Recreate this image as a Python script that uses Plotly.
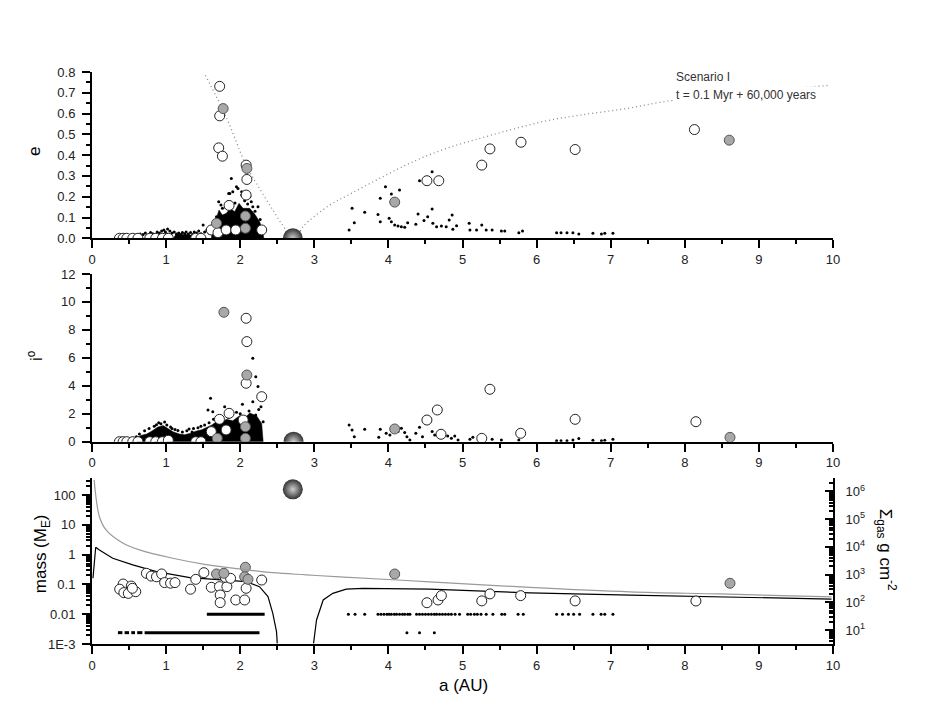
import plotly.graph_objects as go
from plotly.subplots import make_subplots

# ---------------- data ----------------
# panel 1 : eccentricity
dotted_in_a = [1.53, 1.81, 2.08, 2.22, 2.44, 2.62, 2.74]
dotted_in_e = [0.784, 0.584, 0.35, 0.264, 0.136, 0.04, 0.0]
dotted_out_a = [2.76, 2.85, 3.21, 3.48, 3.88, 4.33, 4.78, 5.23, 5.68, 6.13, 6.58, 7.21, 7.85, 9.95]
dotted_out_e = [0.0, 0.056, 0.16, 0.212, 0.288, 0.368, 0.432, 0.48, 0.525, 0.565, 0.592, 0.624, 0.664, 0.736]

# dense planetesimal swarm (outline) 1.6-2.3 AU
swarm_e_a = [1.611, 1.633, 1.678, 1.714, 1.759, 1.813, 1.867, 1.925, 1.984, 2.038, 2.128, 2.195, 2.263, 2.308, 2.317, 1.611]
swarm_e = [0.0, 0.059, 0.096, 0.136, 0.112, 0.12, 0.144, 0.128, 0.168, 0.144, 0.144, 0.117, 0.08, 0.032, 0.0, 0.0]
# dense low band 1.1-1.35 AU
band_e_a = [1.10, 1.13, 1.18, 1.24, 1.30, 1.35, 1.35, 1.10]
band_e = [0.0, 0.018, 0.022, 0.016, 0.020, 0.012, 0.0, 0.0]

plan_e = [
    (0.36, 0.006), (0.40, 0.010), (0.44, 0.008), (0.48, 0.012), (0.53, 0.010), (0.57, 0.015),
    (0.61, 0.012), (0.65, 0.020), (0.69, 0.018), (0.72, 0.025), (0.76, 0.015), (0.79, 0.028),
    (0.82, 0.022), (0.85, 0.018), (0.88, 0.030), (0.91, 0.025), (0.94, 0.035), (0.97, 0.040),
    (0.99, 0.030), (1.02, 0.045), (1.05, 0.035), (1.08, 0.025), (1.11, 0.030), (1.14, 0.020),
    (1.17, 0.026), (1.20, 0.018), (1.22, 0.028), (1.25, 0.022), (1.27, 0.030), (1.30, 0.020),
    (1.33, 0.028), (1.36, 0.018), (1.38, 0.030), (1.41, 0.025), (1.44, 0.035), (1.47, 0.022),
    (1.50, 0.064), (1.52, 0.030), (1.55, 0.040), (1.58, 0.025), (1.60, 0.050), (1.16, 0.005),
    (0.96, 0.015), (1.01, 0.020), (0.83, 0.010), (0.92, 0.012), (1.04, 0.012), (1.46, 0.010),
    (1.88, 0.288), (1.95, 0.248), (2.02, 0.224), (1.845, 0.216), (2.13, 0.2), (2.17, 0.152),
    (1.86, 0.216), (1.90, 0.224), (1.97, 0.24), (2.02, 0.208), (1.835, 0.176), (1.71, 0.176),
    (2.15, 0.176), (2.24, 0.152), (1.76, 0.144), (1.68, 0.104), (1.65, 0.085), (1.74, 0.16),
    (1.80, 0.15), (1.93, 0.17), (2.06, 0.18), (2.10, 0.165), (2.20, 0.13), (2.27, 0.09),
    (2.30, 0.05), (1.63, 0.07),
    (3.47, 0.04), (3.51, 0.144), (3.54, 0.075), (3.68, 0.125), (3.86, 0.115), (3.89, 0.192),
    (3.89, 0.08), (3.96, 0.248), (4.01, 0.096), (4.04, 0.213), (4.04, 0.08), (4.085, 0.064),
    (4.13, 0.059), (4.175, 0.056), (4.22, 0.053), (4.15, 0.232), (4.26, 0.075), (4.37, 0.067),
    (4.40, 0.117), (4.42, 0.277), (4.48, 0.085), (4.53, 0.104), (4.59, 0.32), (4.59, 0.141),
    (4.60, 0.072), (4.65, 0.056), (4.715, 0.059), (4.78, 0.056), (4.82, 0.088), (4.86, 0.112),
    (4.87, 0.043), (4.92, 0.06), (5.09, 0.072), (5.10, 0.04), (5.19, 0.04), (5.26, 0.064),
    (5.32, 0.04), (5.40, 0.04), (5.525, 0.035), (5.57, 0.035), (5.76, 0.027), (5.81, 0.035),
    (6.27, 0.027), (6.33, 0.027), (6.41, 0.027), (6.49, 0.027), (6.57, 0.021), (6.76, 0.024),
    (6.875, 0.021), (6.92, 0.024), (7.03, 0.024),
]
emb_e = [
    (0.37, 0.0), (0.42, 0.0), (0.47, 0.0), (0.55, 0.0), (0.62, 0.0), (0.78, 0.0),
    (0.86, 0.0), (0.95, 0.0), (1.03, 0.0), (1.40, 0.0), (1.47, 0.0),
    (1.723, 0.731), (1.723, 0.589), (1.71, 0.435), (1.76, 0.395), (2.08, 0.352), (2.09, 0.283),
    (2.08, 0.208), (1.85, 0.158), (1.61, 0.04), (1.70, 0.027), (1.81, 0.04), (1.94, 0.04),
    (2.29, 0.04), (4.52, 0.277), (4.68, 0.277), (5.26, 0.352), (5.37, 0.43), (5.79, 0.462),
    (6.52, 0.427), (8.13, 0.523),
]
grey_e = [(1.77, 0.624), (2.09, 0.336), (1.68, 0.072), (2.07, 0.107), (2.07, 0.048), (4.085, 0.174), (8.6, 0.472)]
giant_e = [(2.71, 0.0)]

# panel 2 : inclination (deg)
swarm_i_a = [0.55, 0.58, 0.66, 0.74, 0.82, 0.89, 0.96, 1.03, 1.10, 1.18, 1.25, 1.33, 1.40, 1.48,
             1.55, 1.62, 1.68, 1.75, 1.81, 1.90, 1.99, 2.06, 2.13, 2.22, 2.29, 2.31, 0.55]
swarm_i = [0.0, 0.2, 0.45, 0.55, 0.8, 1.05, 1.15, 0.95, 0.7, 0.55, 0.5, 0.6, 0.75, 0.85,
           1.0, 1.2, 1.45, 1.3, 1.6, 1.5, 1.85, 1.7, 2.05, 1.85, 1.3, 0.0, 0.0]
plan_i = [
    (0.36, 0.05), (0.40, 0.08), (0.44, 0.10), (0.48, 0.12), (0.52, 0.15), (0.60, 0.35),
    (0.64, 0.55), (0.71, 0.78), (0.77, 0.95), (0.84, 1.1), (0.90, 1.36), (0.93, 1.28),
    (0.98, 1.40), (1.01, 1.2), (1.06, 1.05), (1.12, 0.88), (1.16, 0.8), (1.22, 0.7),
    (1.28, 0.78), (1.31, 0.9), (1.37, 0.95), (1.43, 1.0), (1.47, 1.1), (1.52, 1.2),
    (1.58, 1.35), (1.64, 1.6), (1.72, 1.75), (0.87, 1.22), (1.08, 0.95), (1.35, 0.7),
    (2.17, 5.97), (2.21, 4.65), (2.24, 3.94), (1.60, 3.1), (1.79, 2.5), (2.03, 2.68),
    (2.17, 2.86), (2.21, 1.91), (1.565, 2.27), (1.63, 2.15), (2.31, 1.43), (2.25, 2.3),
    (2.12, 2.2), (1.95, 2.1), (1.88, 1.9), (2.28, 2.5), (1.84, 1.75), (2.00, 2.0),
    (3.47, 1.2), (3.51, 0.84), (3.54, 0.36), (3.68, 0.89), (3.87, 0.31), (3.89, 0.89),
    (3.97, 0.6), (4.02, 0.48), (4.13, 0.72), (4.175, 0.96), (4.22, 0.65), (4.25, 0.36),
    (4.29, 0.12), (4.37, 0.6), (4.42, 1.03), (4.46, 0.36), (4.56, 1.43), (4.59, 0.72),
    (4.625, 0.48), (4.76, 0.48), (4.80, 0.41), (4.85, 0.24), (4.895, 0.41), (4.94, 0.12),
    (5.10, 0.17), (5.14, 0.31), (5.40, 0.17), (5.525, 0.12), (5.76, 0.12), (6.27, 0.07),
    (6.33, 0.07), (6.41, 0.07), (6.49, 0.12), (6.57, 0.22), (6.76, 0.1), (6.875, 0.07),
    (6.92, 0.1), (7.03, 0.17),
]
emb_i = [
    (0.37, 0.0), (0.42, 0.0), (0.47, 0.0), (0.55, 0.0), (0.62, 0.0), (0.78, 0.0),
    (0.86, 0.0), (0.95, 0.0), (1.03, 0.1), (1.40, 0.0), (1.47, 0.0),
    (2.08, 8.83), (2.09, 7.16), (2.08, 4.18), (2.29, 3.22), (1.85, 2.03), (1.72, 1.6),
    (1.61, 0.72), (2.04, 1.55), (1.81, 0.84), (5.37, 3.75), (4.66, 2.27), (4.52, 1.55),
    (6.52, 1.6), (4.71, 0.53), (5.785, 0.6), (5.26, 0.24), (8.15, 1.43),
]
grey_i = [(1.78, 9.26), (2.09, 4.77), (2.07, 1.07), (2.07, 0.24), (1.69, 0.24), (4.085, 0.91), (8.61, 0.31)]
giant_i = [(2.72, 0.0)]

# panel 3 : mass (Earth masses) and gas surface density (g cm^-2)
iso_mass = [
    (0.013, 0.16), (0.05, 1.76), (0.10, 1.43), (0.28, 0.75), (0.55, 0.45), (0.87, 0.27),
    (1.32, 0.168), (1.77, 0.14), (2.08, 0.123), (2.26, 0.084), (2.375, 0.039), (2.44, 0.0107),
    (2.49, 0.0026), (2.50, 0.00105), (None, None),
    (2.99, 0.00105), (3.03, 0.0064), (3.12, 0.030), (3.25, 0.050), (3.43, 0.069), (3.66, 0.074),
    (4.56, 0.069), (5.91, 0.052), (7.26, 0.044), (8.47, 0.039), (9.98, 0.032),
]
sigma_gas = [
    (0.03, 2.6e6), (0.04, 1.3e6), (0.10, 1.23e5), (0.19, 4.1e4), (0.42, 1.35e4), (0.64, 7.8e3),
    (1.09, 3.9e3), (1.54, 2.3e3), (1.99, 1.6e3), (2.44, 1.17e3), (2.89, 980), (3.34, 830),
    (4.56, 550), (5.91, 347), (7.26, 240), (8.47, 200), (9.98, 158),
]
row_small_a = [0.35, 0.41, None, 0.44, 0.50, None, 0.53, 0.58, None, 0.61, 0.68, None, 0.71, 2.26]
row_small_m = 0.0024
row_big_a = [1.55, 2.33]
row_big_m = 0.01
plan_m_a = [3.46, 3.55, 3.68, 3.86, 3.90, 3.94, 3.98, 4.01, 4.04, 4.08, 4.11, 4.15, 4.19, 4.22,
            4.26, 4.29, 4.38, 4.42, 4.46, 4.50, 4.54, 4.58, 4.62, 4.65, 4.69, 4.73, 4.77, 4.81,
            4.85, 4.90, 4.96, 5.07, 5.11, 5.16, 5.20, 5.25, 5.32, 5.41, 5.53, 5.57, 5.75, 5.82,
            6.27, 6.35, 6.43, 6.50, 6.58, 6.76, 6.87, 6.92, 7.03]
plan_m_small_a = [4.25, 4.42, 4.62]
emb_m = [
    (0.42, 0.103), (0.53, 0.088), (0.374, 0.069), (0.43, 0.053), (0.49, 0.050), (0.59, 0.057),
    (0.545, 0.074), (0.734, 0.236), (0.80, 0.19), (0.87, 0.18), (0.94, 0.224), (0.98, 0.115),
    (1.06, 0.11), (1.12, 0.115), (1.33, 0.069), (1.40, 0.148), (1.51, 0.247), (1.61, 0.08),
    (1.72, 0.084), (1.82, 0.084), (1.73, 0.044), (1.73, 0.0245), (1.80, 0.173), (1.87, 0.16),
    (1.94, 0.030), (2.06, 0.030), (2.08, 0.074), (2.29, 0.14), (4.52, 0.0243), (4.67, 0.030),
    (4.715, 0.042), (5.26, 0.028), (5.37, 0.048), (5.785, 0.042), (6.52, 0.028), (8.15, 0.0277),
]
grey_m = [(1.68, 0.224), (1.78, 0.236), (2.07, 0.375), (2.06, 0.18), (2.105, 0.148), (4.085, 0.223), (8.61, 0.109)]
giant_m = [(2.71, 155)]

# ---------------- figure ----------------
FONT = "Liberation Sans, Arial, sans-serif"
fig = make_subplots(rows=3, cols=1, specs=[[{}], [{}], [{"secondary_y": True}]])


def xy(pairs):
    return [p[0] for p in pairs], [p[1] for p in pairs]


def add_points(pairs, row, kind):
    xs, ys = xy(pairs)
    if kind == "dot":
        m = dict(size=3, color="black")
    elif kind == "open":
        m = dict(size=10, color="white", line=dict(color="#222", width=1))
    elif kind == "grey":
        m = dict(size=10, color="#a8a8a8", line=dict(color="#555", width=1))
    else:
        m = dict(size=20, color="#333", gradient=dict(type="radial", color="#cfcfcf"),
                 line=dict(width=0))
    fig.add_trace(go.Scatter(x=xs, y=ys, mode="markers", marker=m, cliponaxis=True,
                             showlegend=False), row=row, col=1)


def add_swarm(xs, ys, row):
    fig.add_trace(go.Scatter(x=xs, y=ys, mode="lines", fill="toself", fillcolor="black",
                             line=dict(width=0.5, color="black"), showlegend=False), row=row, col=1)


# eccentricity panel
for xs, ys in [(dotted_in_a, dotted_in_e), (dotted_out_a, dotted_out_e)]:
    fig.add_trace(go.Scatter(x=xs, y=ys, mode="lines",
                             line=dict(color="#8a8a8a", width=1.3, dash="1px,3px"),
                             line_shape="spline", showlegend=False), row=1, col=1)
add_swarm(swarm_e_a, swarm_e, 1)
add_swarm(band_e_a, band_e, 1)
add_points(plan_e, 1, "dot")
add_points(emb_e, 1, "open")
add_points(grey_e, 1, "grey")
add_points(giant_e, 1, "giant")

# inclination panel
add_swarm(swarm_i_a, swarm_i, 2)
add_points(plan_i, 2, "dot")
add_points(emb_i, 2, "open")
add_points(grey_i, 2, "grey")
add_points(giant_i, 2, "giant")

# mass panel
sx, sy = xy(sigma_gas)
fig.add_trace(go.Scatter(x=sx, y=sy, mode="lines", line=dict(color="#9a9a9a", width=1.2),
                         line_shape="spline", showlegend=False), row=3, col=1, secondary_y=True)
mx, my = xy(iso_mass)
fig.add_trace(go.Scatter(x=mx, y=my, mode="lines", line=dict(color="black", width=1.2),
                         connectgaps=False, showlegend=False), row=3, col=1)
fig.add_trace(go.Scatter(x=row_small_a, y=[None if a is None else row_small_m for a in row_small_a],
                         mode="lines", line=dict(color="black", width=3), showlegend=False), row=3, col=1)
fig.add_trace(go.Scatter(x=row_big_a, y=[row_big_m] * len(row_big_a), mode="lines",
                         line=dict(color="black", width=3), showlegend=False), row=3, col=1)
fig.add_trace(go.Scatter(x=plan_m_a, y=[row_big_m] * len(plan_m_a), mode="markers",
                         marker=dict(size=3, color="black"), showlegend=False), row=3, col=1)
fig.add_trace(go.Scatter(x=plan_m_small_a, y=[row_small_m] * len(plan_m_small_a), mode="markers",
                         marker=dict(size=3, color="black"), showlegend=False), row=3, col=1)
add_points(emb_m, 3, "open")
add_points(grey_m, 3, "grey")
add_points(giant_m, 3, "giant")

# ---------------- axes ----------------
tickfont = dict(family=FONT, size=13, color="#222")
common = dict(showline=True, linewidth=2, linecolor="black", showgrid=False, zeroline=False,
              ticks="outside", ticklen=8, tickwidth=2, tickcolor="black", tickfont=tickfont,
              mirror=False, automargin=False)
xcommon = dict(common, domain=[0, 1], range=[0, 10], tick0=0, dtick=1, ticklabelstandoff=0,
               minor=dict(dtick=0.5, ticks="outside", ticklen=4, tickwidth=2, tickcolor="black"))

fig.update_layout(
    xaxis=dict(xcommon),
    xaxis2=dict(xcommon),
    xaxis3=dict(xcommon),
    yaxis=dict(common, domain=[0.7093, 1.0], range=[0, 0.8], tick0=0, dtick=0.1, tickformat=".1f",
               ticklabelstandoff=4,
               minor=dict(dtick=0.05, ticks="outside", ticklen=4, tickwidth=2, tickcolor="black")),
    yaxis2=dict(common, domain=[0.3537, 0.6469], range=[0, 12], tick0=0, dtick=2, ticklabelstandoff=4,
                minor=dict(dtick=1, ticks="outside", ticklen=4, tickwidth=2, tickcolor="black")),
    yaxis3=dict(common, domain=[0.0, 0.2902], type="log", range=[-3, 2.57],
                tickvals=[0.001, 0.01, 0.1, 1, 10, 100],
                ticktext=["1E-3", "0.01", "0.1", "1", "10", "100"], ticklabelstandoff=4,
                minor=dict(dtick="D1", ticks="outside", ticklen=4, tickwidth=1.5, tickcolor="black")),
    yaxis4=dict(common, type="log", range=[0.495, 6.487], side="right", ticks="inside",
                tickvals=[10, 100, 1e3, 1e4, 1e5, 1e6],
                ticktext=["10<sup>1</sup>", "10<sup>2</sup>", "10<sup>3</sup>", "10<sup>4</sup>",
                          "10<sup>5</sup>", "10<sup>6</sup>"], ticklabelstandoff=8,
                minor=dict(dtick="D1", ticks="inside", ticklen=4, tickwidth=1.5, tickcolor="black")),
)

titlefont = dict(family=FONT, size=17, color="black")
notes = [
    dict(text="e", x=-0.077, y=0.862, textangle=-90),
    dict(text="i<sup>o</sup>", x=-0.077, y=0.505, textangle=-90),
    dict(text="mass (M<sub>E</sub>)", x=-0.068, y=0.158, textangle=-90),
    dict(text="a (AU)", x=0.5007, y=-0.072, textangle=0),
    dict(text="Σ<sub>gas</sub> g cm<sup>-2</sup>", x=1.072, y=0.164, textangle=90),
]
for n in notes:
    fig.add_annotation(xref="paper", yref="paper", showarrow=False, font=titlefont,
                       xanchor="center", yanchor="middle", **n)

fig.add_annotation(xref="x", yref="y", x=7.85, y=0.774, text="Scenario I", showarrow=False,
                   xanchor="left", yanchor="middle", font=dict(family=FONT, size=12, color="#333"))
fig.add_annotation(xref="x", yref="y", x=7.85, y=0.688, text="t = 0.1 Myr + 60,000 years",
                   showarrow=False, xanchor="left", yanchor="middle", bgcolor="white",
                   font=dict(family=FONT, size=12, color="#333"))

# the page body adds an 8px margin, so the figure is 16px smaller and the margins shifted
fig.update_layout(
    template="simple_white",
    width=910, height=700,
    margin=dict(l=84, r=85, t=64, b=64, autoexpand=False),
    paper_bgcolor="white", plot_bgcolor="white",
    showlegend=False,
)

fig.write_html("out.html")
